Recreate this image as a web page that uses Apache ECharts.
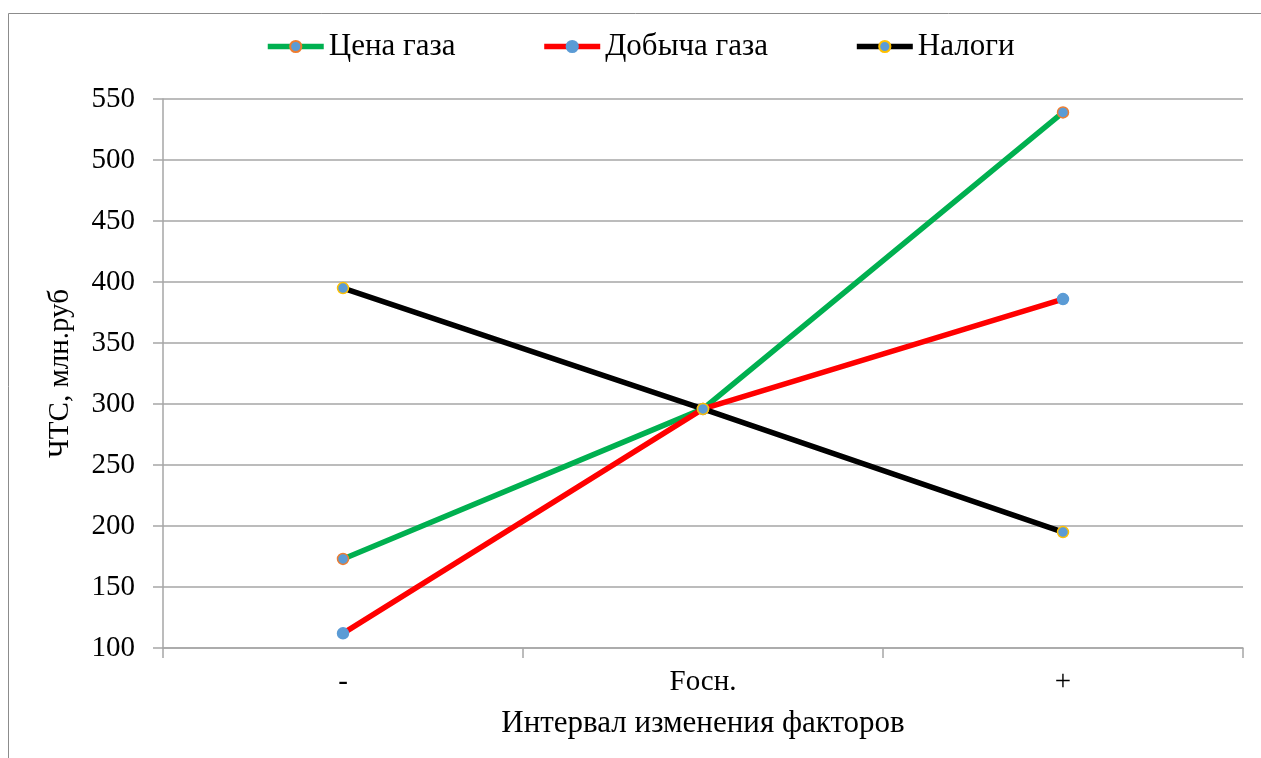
<!DOCTYPE html>
<html>
<head>
<meta charset="utf-8">
<script src="https://cdn.jsdelivr.net/npm/echarts@6/dist/echarts.min.js"></script>
<style>
html,body{margin:0;padding:0;background:#fff;}
#chart{width:1261px;height:758px;}
</style>
</head>
<body>
<div id="chart"></div>
<script>
const categories = ['-', 'Fосн.', '+'];
const seriesNames = ['Цена газа', 'Добыча газа', 'Налоги'];
const priceValues = [173, 296, 539];
const productionValues = [112, 296, 386];
const taxValues = [395, 296, 195];
const yTicks = { min: 100, max: 550, interval: 50 };

const font = 'Liberation Serif';
const lineColors = ['#00B050', '#FF0000', '#000000'];
const borderColors = ['#ED7D31', '#5B9BD5', '#FFC000'];
const dataSets = [priceValues, productionValues, taxValues];

const chart = echarts.init(document.getElementById('chart'), null, { renderer: 'canvas' });
chart.setOption({
  backgroundColor: '#fff',
  animation: false,
  graphic: [{
    type: 'rect',
    shape: { x: 8.5, y: 13.5, width: 1300, height: 800 },
    style: { fill: 'none', stroke: '#8c8c8c', lineWidth: 1 },
    silent: true, z: -10
  }],
  legend: {
    top: 26,
    left: 260,
    itemWidth: 56,
    itemHeight: 14,
    itemGap: 86,
    lineStyle: { width: 5.5 },
    textStyle: { fontFamily: font, fontSize: 31, color: '#000' },
    data: seriesNames
  },
  grid: { left: 163, right: 18, top: 99, bottom: 110, containLabel: false },
  xAxis: {
    type: 'category',
    data: categories,
    boundaryGap: true,
    name: 'Интервал изменения факторов',
    nameLocation: 'middle',
    nameGap: 60,
    nameTextStyle: { fontFamily: font, fontSize: 31, color: '#000' },
    axisLine: { show: true, lineStyle: { color: '#a6a6a6', width: 1.5 } },
    axisTick: { show: true, alignWithLabel: false, length: 10, lineStyle: { color: '#a6a6a6', width: 1.5 } },
    axisLabel: { fontFamily: font, fontSize: 29, color: '#000', margin: 20 },
    splitLine: { show: false }
  },
  yAxis: {
    type: 'value',
    min: yTicks.min, max: yTicks.max, interval: yTicks.interval,
    name: 'ЧТС, млн.руб',
    nameLocation: 'middle',
    nameGap: 88,
    nameTextStyle: { fontFamily: font, fontSize: 29, color: '#000' },
    axisLine: { show: true, lineStyle: { color: '#a6a6a6', width: 1.5 } },
    axisTick: { show: true, length: 10, lineStyle: { color: '#a6a6a6', width: 1.5 } },
    axisLabel: { fontFamily: font, fontSize: 29, color: '#000', margin: 28 },
    splitLine: { show: true, lineStyle: { color: '#a6a6a6', width: 1.5 } }
  },
  series: seriesNames.map((n, i) => ({
    name: n,
    type: 'line',
    data: dataSets[i],
    symbol: 'circle',
    symbolSize: 11,
    lineStyle: { color: lineColors[i], width: 5.5 },
    itemStyle: { color: '#5B9BD5', borderColor: borderColors[i], borderWidth: 1.5 },
    emphasis: { disabled: true }
  }))
});
</script>
</body>
</html>
